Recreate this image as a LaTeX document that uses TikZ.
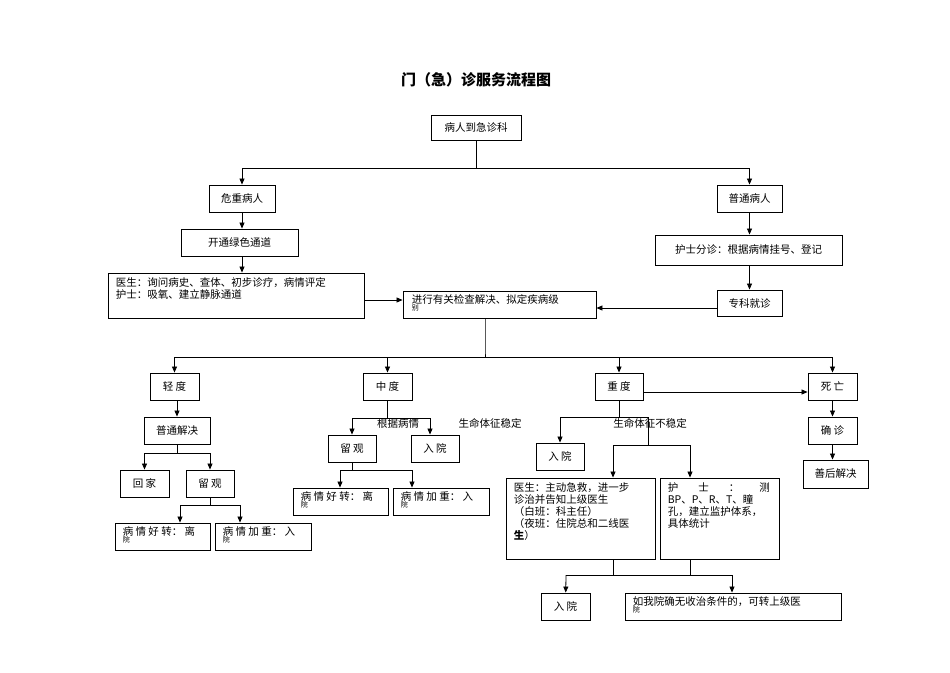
\documentclass[tikz,border=0pt]{standalone}
\usepackage{fontspec}
\setmainfont{Liberation Serif}
\newfontfamily\cjk{Noto Sans CJK SC}
\usetikzlibrary{arrows.meta}

\tikzset{
  box/.style={draw, line width=0.9pt, fill=white, inner sep=0pt},
  txt/.style={font=\cjk\fontsize{10.5}{12}\selectfont, inner sep=0pt},
  arr/.style={-{Triangle[length=6pt,width=5pt]}, line width=0.8pt},
  ln/.style={line width=0.8pt}
}
% box: name, center x, center y, width, height, text
\newcommand\bx[6]{\node[box,txt,minimum width=#4pt,minimum height=#5pt] (#1) at (#2,#3) {#6};}

\begin{document}
\begin{tikzpicture}[x=1pt,y=-1pt]
\useasboundingbox (0,0) rectangle (950,672);

\node[font=\cjk\bfseries\fontsize{15}{18}\selectfont] (title) at (476,80) {门（急）诊服务流程图};

% top
\bx{arrive}{476}{127.5}{90}{25}{病人到急诊科}
\bx{crit}{242}{198.5}{66}{27}{危重病人}
\bx{norm}{749.5}{198.5}{65}{27}{普通病人}
\bx{green}{239.5}{242.5}{117}{27}{开通绿色通道}
\bx{doc}{236}{295.5}{256}{45}{}
\node[txt,anchor=north west,align=left] (doct) at ([shift={(8,5)}]doc.north west) {医生：询问病史、查体、初步诊疗，病情评定\\护士：吸氧、建立静脉通道};
\bx{nurse}{748.5}{250}{187}{30}{护士分诊：根据病情挂号、登记}
\bx{spec}{749.5}{303}{65}{26}{专科就诊}
\bx{check}{499.5}{304.5}{193}{27}{}
\node[txt,anchor=north west,align=left] (checkt) at ([shift={(9,4)}]check.north west) {进行有关检查解决、拟定疾病级\\[-5pt]{\scriptsize 别}};

\coordinate (top) at (476,168);
\draw[ln] (arrive) -- (top);
\draw[ln] (242,168) -- (749.5,168);
\draw[arr] (242,168) -- (crit);
\draw[arr] (749.5,168) -- (norm);
\draw[arr] (crit) -- (green.north -| crit);
\draw[arr] (green.south -| crit) -- (doc.north -| crit);
\draw[arr] (norm) -- (nurse.north -| norm);
\draw[arr] (nurse.south -| spec) -- (spec);
\draw[arr] (doc.east |- 0,300) -- (check.west |- 0,300);
\draw[arr] (spec.west |- 0,308) -- (check.east |- 0,308);

% grades
\bx{mild}{174.5}{386.5}{49}{27}{轻 度}
\bx{mid}{387.5}{386.5}{49}{27}{中 度}
\bx{sev}{619}{386.5}{48}{27}{重 度}
\bx{dead}{832.5}{386.5}{49}{27}{死 亡}
\coordinate (split) at (485,352);
\draw[ln] (485,318) -- (split) -- (485,357);
\draw[ln] (174.5,357) -- (832.5,357);
\foreach \n in {mild,mid,sev,dead}
  \draw[arr] (\n.north |- 0,357) -- (\n);
\draw[arr] (sev.east |- 0,392) -- (dead.west |- 0,392);

% mild
\bx{plain}{177}{430.5}{66}{27}{普通解决}
\bx{home}{144.5}{483.5}{49}{27}{回 家}
\bx{obs1}{210}{483.5}{48}{27}{留 观}
\bx{good1}{162.5}{536.5}{95}{27}{}
\bx{bad1}{263}{536.5}{96}{27}{}
\node[txt,anchor=north west,align=left] at ([shift={(8,4)}]good1.north west) {病 情 好 转： 离\\[-5pt]{\scriptsize 院}};
\node[txt,anchor=north west,align=left] at ([shift={(8,4)}]bad1.north west) {病 情 加 重： 入\\[-5pt]{\scriptsize 院}};
\draw[arr] (mild.south -| 177,0) -- (plain);
\draw[ln] (plain) -- (177,453) (144.5,453) -- (210,453);
\draw[arr] (144.5,453) -- (home);
\draw[arr] (210,453) -- (obs1);
\draw[ln] (obs1) -- (210,505) (180,505) -- (240,505);
\draw[arr] (180,505) -- (good1.north -| 180,0);
\draw[arr] (240,505) -- (bad1.north -| 240,0);

% middle
\bx{obs2}{352}{448.5}{48}{27}{留 观}
\bx{hosp2}{435}{448.5}{48}{27}{入 院}
\bx{good2}{340.5}{501.5}{95}{27}{}
\bx{bad2}{441}{501.5}{96}{27}{}
\node[txt,anchor=north west,align=left] at ([shift={(8,4)}]good2.north west) {病 情 好 转： 离\\[-5pt]{\scriptsize 院}};
\node[txt,anchor=north west,align=left] at ([shift={(8,4)}]bad2.north west) {病 情 加 重： 入\\[-5pt]{\scriptsize 院}};
\draw[ln] (mid) -- (387.5,418) (352,418) -- (430,418);
\draw[arr] (352,418) -- (obs2);
\draw[arr] (430,418) -- (hosp2.north -| 430,0);
\node[txt] (lb1) at (398,423) {根据病情};
\node[txt] (lb2) at (490,423) {生命体征稳定};
\draw[ln] (obs2) -- (352,470) (340,470) -- (412,470);
\draw[arr] (340,470) -- (good2.north -| 340,0);
\draw[arr] (412,470) -- (bad2.north -| 412,0);

% severe
\bx{hosp3}{560}{456.5}{48}{27}{入 院}
\bx{doc3}{580.5}{518.5}{149}{81}{}
\bx{nur3}{719.5}{518.5}{119}{81}{}
\node[txt,anchor=north west,align=left] at ([shift={(8,5)}]doc3.north west) {医生：主动急救，进一步\\诊治并告知上级医生\\（白班：科主任）\\（夜班：住院总和二线医\\\textbf{生}）};
\node[txt,anchor=north west,align=left] at ([shift={(8,5)}]nur3.north west) {\makebox[102pt][s]{护\hfill 士\hfill ：\hfill 测}\\BP、P、R、T、瞳\\孔，建立监护体系，\\具体统计};
\node[txt] (lb3) at (650,423) {生命体征不稳定};
\draw[ln] (sev) -- (619,417) (560,417) -- (648,417) -- (648,445) (613,445) -- (690,445);
\draw[arr] (560,417) -- (hosp3);
\draw[arr] (613,445) -- (doc3.north -| 613,0);
\draw[arr] (690,445) -- (nur3.north -| 690,0);
\bx{hosp4}{565.5}{606.5}{49}{27}{入 院}
\bx{up}{733}{606.5}{216}{27}{}
\node[txt,anchor=north west,align=left] at ([shift={(8,4)}]up.north west) {如我院确无收治条件的，可转上级医\\[-5pt]{\scriptsize 院}};
\draw[ln] (doc3.south -| 613,0) -- (613,575) (nur3.south -| 690,0) -- (690,575) (566,575) -- (732,575);
\draw[arr] (566,575) -- (hosp4);
\draw[arr] (732,575) -- (up.north -| 732,0);

% death
\bx{diag}{832.5}{430.5}{49}{27}{确 诊}
\bx{after}{835.5}{474}{65}{28}{善后解决}
\draw[arr] (dead) -- (diag);
\draw[arr] (diag) -- (after.north -| diag);

\end{tikzpicture}
\end{document}
